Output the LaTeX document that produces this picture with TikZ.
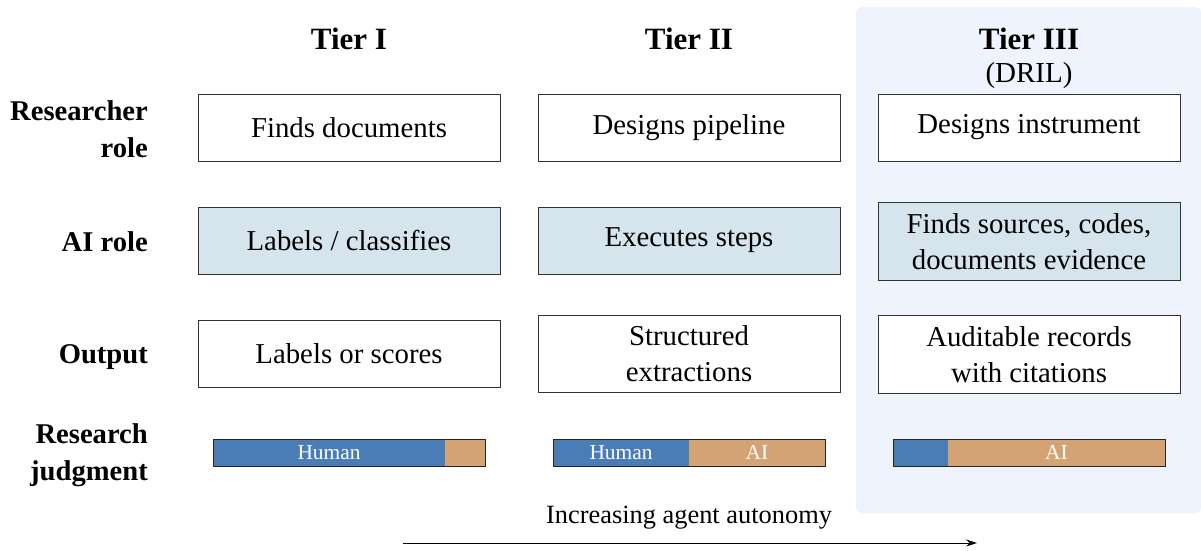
\documentclass[tikz,border=0pt]{standalone}
\usepackage{fontspec}
\setmainfont{Liberation Serif}
\newfontfamily\tnr{Liberation Serif}
\usetikzlibrary{arrows.meta}
\definecolor{boxblue}{HTML}{D6E4EE}
\definecolor{panelc}{HTML}{EEF3FD}
\definecolor{humanc}{HTML}{4A7DB5}
\definecolor{aic}{HTML}{D4A373}
\definecolor{edgec}{HTML}{333333}
\begin{document}
\begin{tikzpicture}[x=1pt,y=-1pt,
  cell/.style={draw=edgec, line width=1pt, minimum width=302pt, minimum height=67pt,
    inner ysep=10.5pt, align=center,
    font=\tnr\fontsize{28.8}{36}\selectfont},
  whitecell/.style={cell, fill=white},
  bluecell/.style={cell, fill=boxblue},
  rowlab/.style={anchor=east, align=right, inner sep=0pt,
    font=\tnr\fontsize{28.6}{37}\selectfont\bfseries},
  tierlab/.style={anchor=base, inner sep=0pt, font=\tnr\fontsize{31}{36}\selectfont\bfseries},
  barframe/.style={draw=black!85, line width=1pt, minimum width=272pt, minimum height=27pt, inner sep=0pt},
  barlab/.style={text=white, inner sep=0pt, font=\tnr\fontsize{21.4}{24}\selectfont},
]
\useasboundingbox (0,0) rectangle (1201,550);
\fill[panelc, rounded corners=6pt] (856,7) rectangle (1201,513);

% tier headings
\node[tierlab] (t1) at (349,49) {Tier I};
\node[tierlab] (t2) at (689,49) {Tier II};
\node[tierlab] (t3) at (1029,49) {Tier III};
\node[anchor=base, inner sep=0pt, font=\tnr\fontsize{29}{34}\selectfont] (t3b) at (1029,82) {(DRIL)};

% row labels
\node[rowlab] (r1) at (148,128.75) {Researcher\\role};
\node[rowlab, anchor=base east] (r2) at (148,251) {AI role};
\node[rowlab, anchor=base east] (r3) at (148,363) {Output};
\node[rowlab] (r4) at (148,455) {Research\\judgment};

% boxes
\node[whitecell] (a1) at (349,127.5) {Finds documents};
\node[whitecell] (a2) at (689,127.5) {Designs pipeline};
\node[whitecell] (a3) at (1029,127.5) {Designs instrument};
\node[bluecell] (b1) at (349,240.5) {Labels / classifies};
\node[bluecell] (b2) at (689,240.5) {Executes steps};
\node[bluecell] (b3) at (1029,241.5) {Finds sources, codes,\\documents evidence};
\node[whitecell] (c1) at (349,354) {Labels or scores};
\node[whitecell] (c2) at (689,354) {Structured\\extractions};
\node[whitecell] (c3) at (1029,354.5) {Auditable records\\with citations};

% bars
\fill[humanc] (213,439) rectangle (445,466);
\fill[aic] (445,439) rectangle (485,466);
\node[barframe] (j1) at (349,452.5) {};
\node[barlab] (j1h) at (329,452.5) {Human};

\fill[humanc] (553,439) rectangle (689,466);
\fill[aic] (689,439) rectangle (825,466);
\node[barframe] (j2) at (689,452.5) {};
\node[barlab] (j2h) at (621,452.5) {Human};
\node[barlab] (j2a) at (757,452.5) {AI};

\fill[humanc] (893,439) rectangle (948,466);
\fill[aic] (948,439) rectangle (1165,466);
\node[barframe] (j3) at (1029,452.5) {};
\node[barlab] (j3a) at (1056.5,452.5) {AI};

% autonomy arrow
\node[anchor=base, inner sep=0pt, font=\tnr\fontsize{26.4}{30}\selectfont] (inc) at (689,523) {Increasing agent autonomy};
\coordinate (as) at (403,543);
\coordinate (ae) at (977,543);
\draw[line width=1pt, -{Stealth[length=11pt,width=7pt]}] (as) -- (ae);
\end{tikzpicture}
\end{document}
